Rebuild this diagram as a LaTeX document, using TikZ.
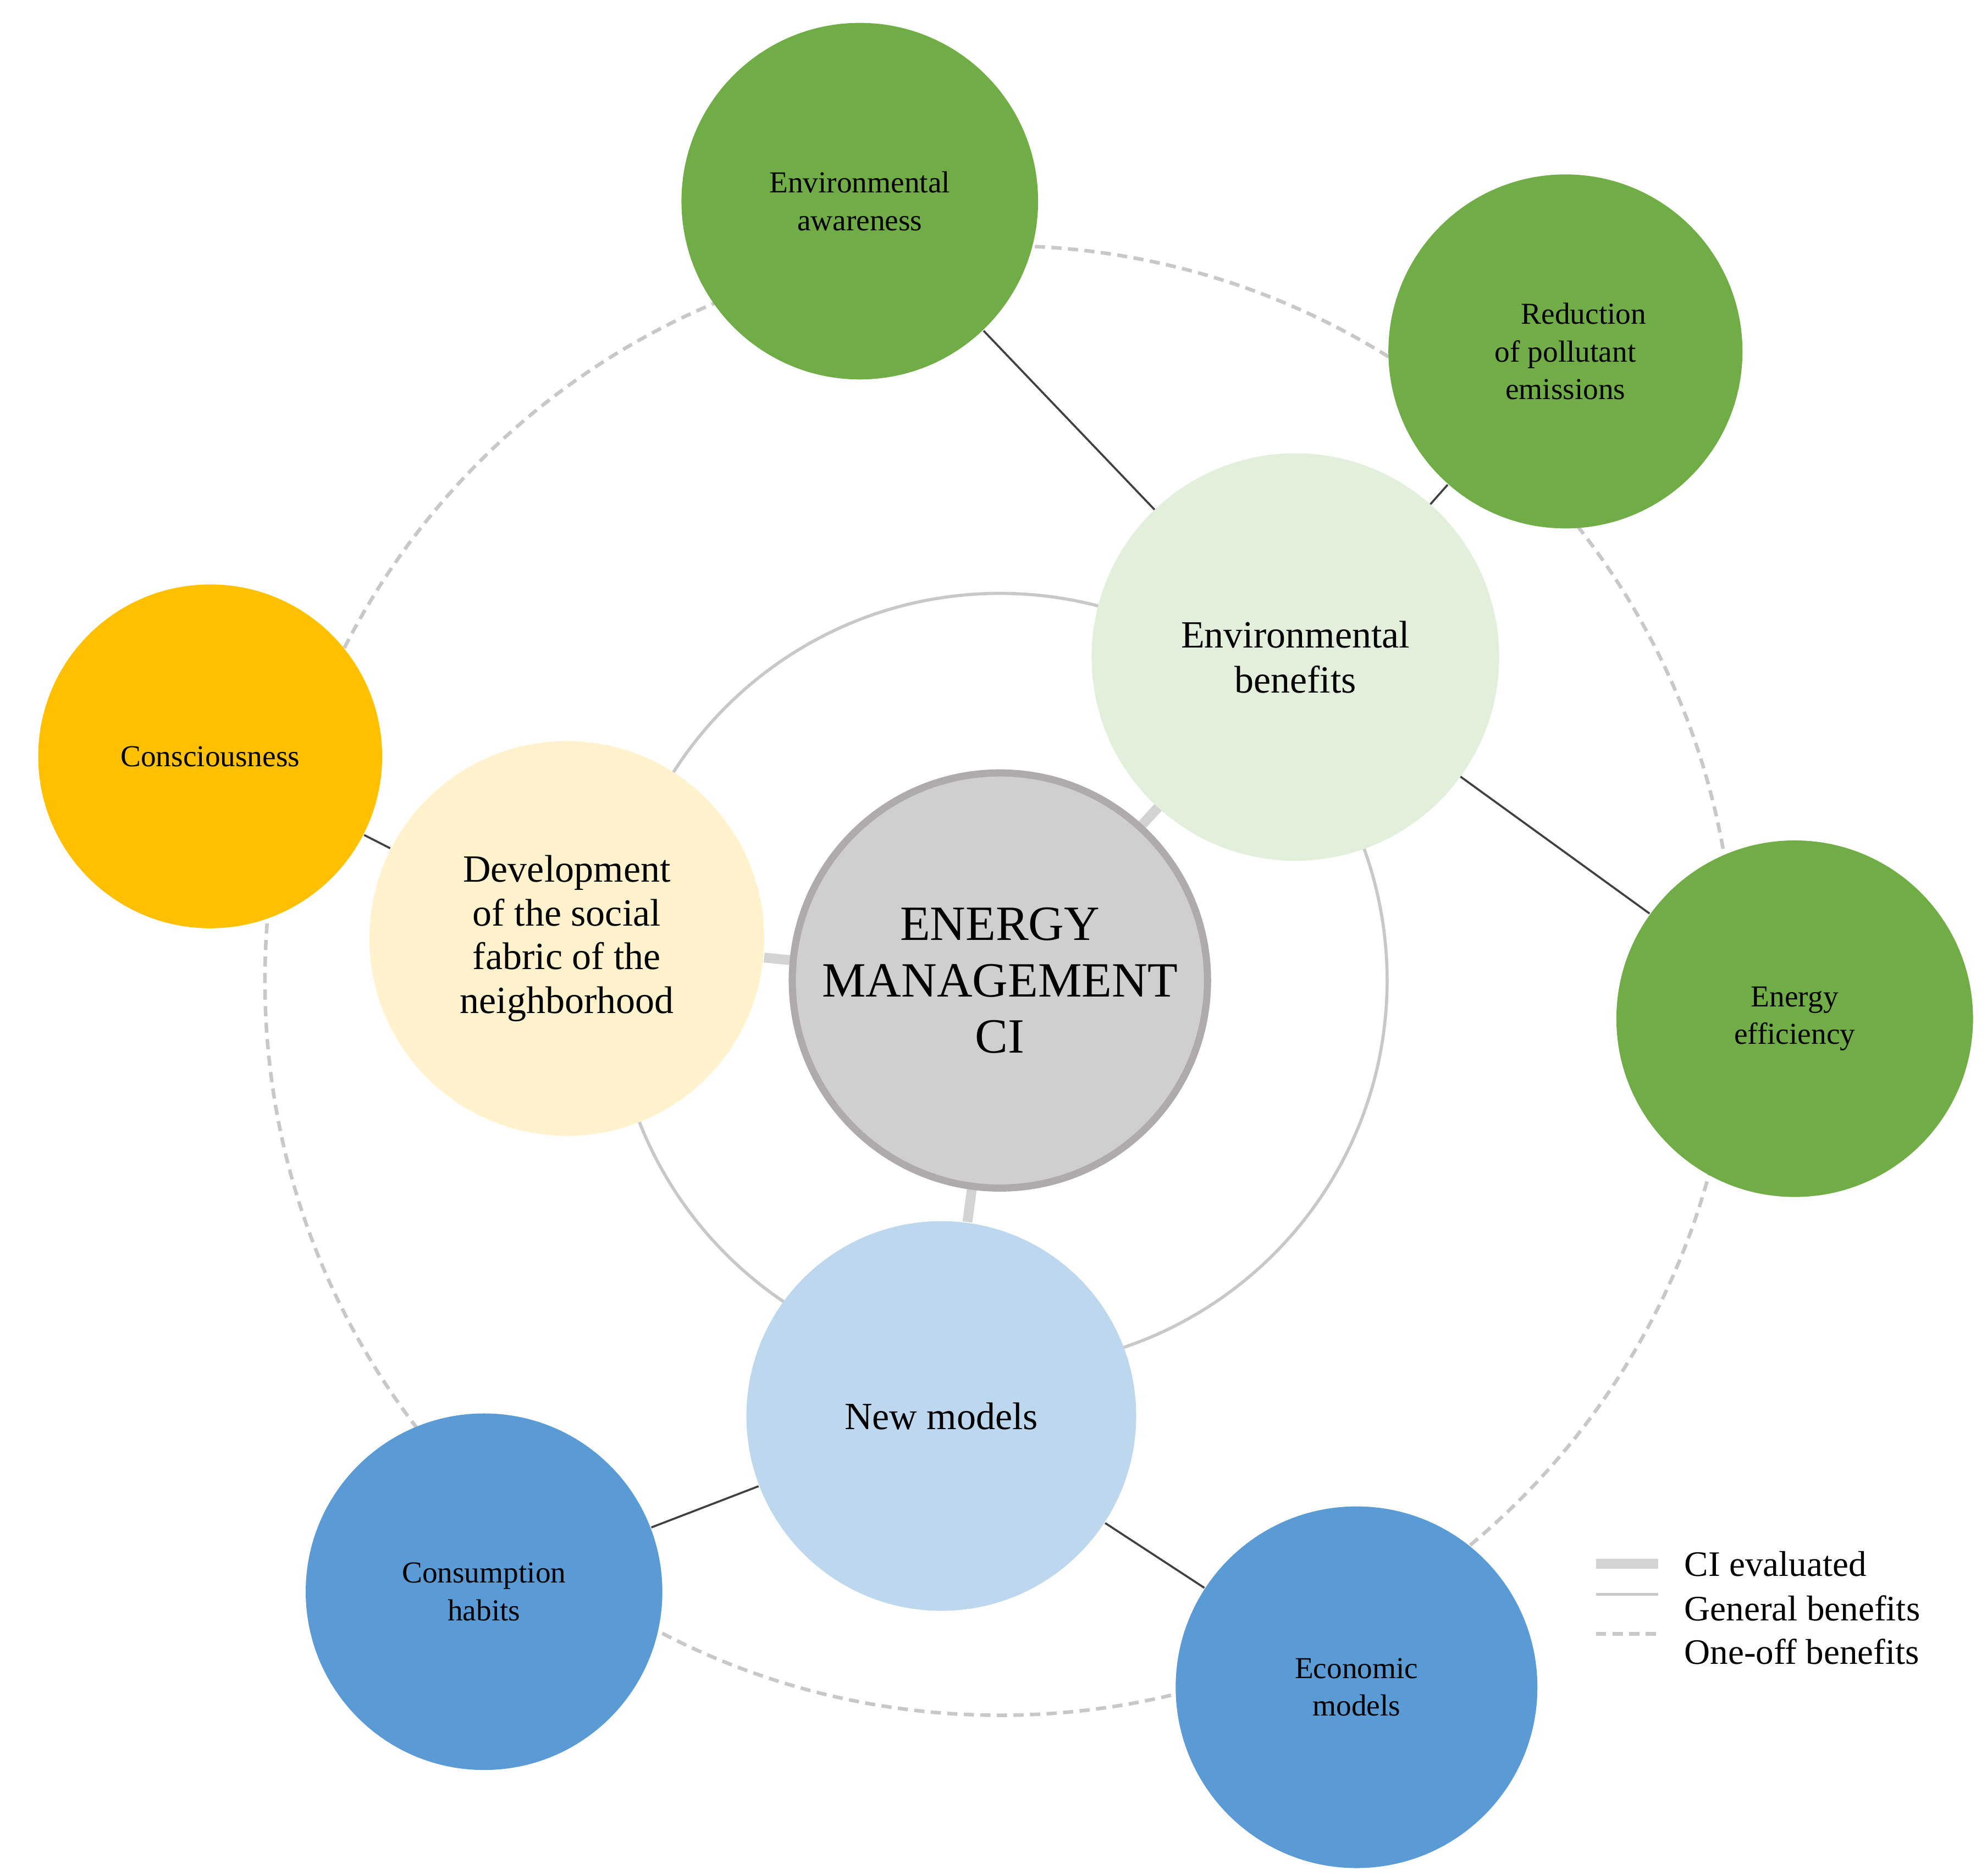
\documentclass[tikz,border=0pt]{standalone}
\usepackage{fontspec}
\setmainfont{Liberation Serif}
\begin{document}
\begin{tikzpicture}
\definecolor{gr}{HTML}{70AD47}\definecolor{bl}{HTML}{5B9BD5}\definecolor{gd}{HTML}{FFC000}
\definecolor{lgr}{HTML}{E2EFDA}\definecolor{lbl}{HTML}{BDD7EE}\definecolor{lyl}{HTML}{FFF2CC}
\definecolor{cg}{HTML}{D0CECE}\definecolor{cgb}{HTML}{AFABAB}\definecolor{ring}{HTML}{C8C8C8}
\tikzset{bub/.style={circle,inner sep=0pt,align=center,text=black},
 conn/.style={draw=black!75,line width=0.45pt},
 ci/.style={draw=ring!80,line width=2.2pt},
 gen/.style={draw=ring,line width=0.7pt},
 oneoff/.style={draw=ring,line width=0.8pt,dash pattern=on 0.08cm off 0.05cm}}
\useasboundingbox (0,0) rectangle (15.6,14.73);
\coordinate (c0) at (7.85,7.03);
\draw[oneoff] (c0) circle (5.77);
\draw[gen] (c0) circle (3.04);
\node[bub,minimum size=3.0cm] (env) at (10.17,9.57) {};
\node[bub,minimum size=2.8cm] (ea) at (6.75,13.15) {};
\node[bub,minimum size=2.78cm] (red) at (12.29,11.97) {};
\node[bub,minimum size=2.8cm] (ee) at (14.09,6.73) {};
\node[bub,minimum size=2.84cm] (eco) at (10.65,1.48) {};
\node[bub,minimum size=2.8cm] (con) at (3.80,2.23) {};
\node[bub,minimum size=2.7cm] (csc) at (1.65,8.79) {};
\node[bub,minimum size=3.1cm] (dev) at (4.45,7.36) {};
\node[bub,minimum size=3.06cm] (nm) at (7.39,3.61) {};
\node[bub,minimum size=3.3cm] (ctr) at (c0) {};
\draw[conn] (ea) -- (env); \draw[conn] (red) -- (env); \draw[conn] (env) -- (ee);
\draw[conn] (csc) -- (dev); \draw[conn] (nm) -- (con); \draw[conn] (nm) -- (eco);
\draw[ci] (ctr) -- (env); \draw[ci] (ctr) -- (dev); \draw[ci] (ctr) -- (nm);
\fill[lgr] (env) circle (1.60); \node[font=\fontsize{8.6}{10}\selectfont,align=center] at (env) {Environmental\\benefits};
\fill[gr] (ea) circle (1.40); \node[font=\fontsize{6.8}{8.4}\selectfont,align=center] at (ea) {Environmental\\awareness};
\fill[gr] (red) circle (1.39); \node[font=\fontsize{6.8}{8.4}\selectfont,align=center] at (red) {\hspace*{1.2em}Reduction\\of pollutant\\emissions};
\fill[gr] (ee) circle (1.40); \node[font=\fontsize{6.8}{8.4}\selectfont,align=center] at (ee) {Energy\\efficiency};
\fill[bl] (eco) circle (1.42); \node[font=\fontsize{6.8}{8.4}\selectfont,align=center] at (eco) {Economic\\models};
\fill[bl] (con) circle (1.40); \node[font=\fontsize{6.8}{8.4}\selectfont,align=center] at (con) {Consumption\\habits};
\fill[gd] (csc) circle (1.35); \node[font=\fontsize{6.8}{8.4}\selectfont] at (csc) {Consciousness};
\fill[lyl] (dev) circle (1.55); \node[font=\fontsize{8.6}{9.8}\selectfont,align=center] at (dev) {Development\\of the social\\fabric of the\\neighborhood};
\fill[lbl] (nm) circle (1.53); \node[font=\fontsize{8.6}{10}\selectfont] at (nm) {New models};
\filldraw[fill=cg,draw=cgb,line width=1.6pt] (ctr) circle (1.63);
\node[font=\fontsize{11}{12.6}\selectfont,align=center] at (c0) {ENERGY\\MANAGEMENT\\CI};
\coordinate (l1a) at (12.53,2.45); \coordinate (l1b) at (13.02,2.45);
\coordinate (l2a) at (12.53,2.21); \coordinate (l2b) at (13.02,2.21);
\coordinate (l3a) at (12.53,1.90); \coordinate (l3b) at (13.02,1.90);
\draw[ci] (l1a) -- (l1b); \draw[gen] (l2a) -- (l2b); \draw[oneoff] (l3a) -- (l3b);
\node[anchor=west,font=\fontsize{8}{9}\selectfont] (t1) at (13.1,2.45) {CI evaluated};
\node[anchor=west,font=\fontsize{8}{9}\selectfont] (t2) at (13.1,2.10) {General benefits};
\node[anchor=west,font=\fontsize{8}{9}\selectfont] (t3) at (13.1,1.76) {One-off benefits};
\end{tikzpicture}
\end{document}
